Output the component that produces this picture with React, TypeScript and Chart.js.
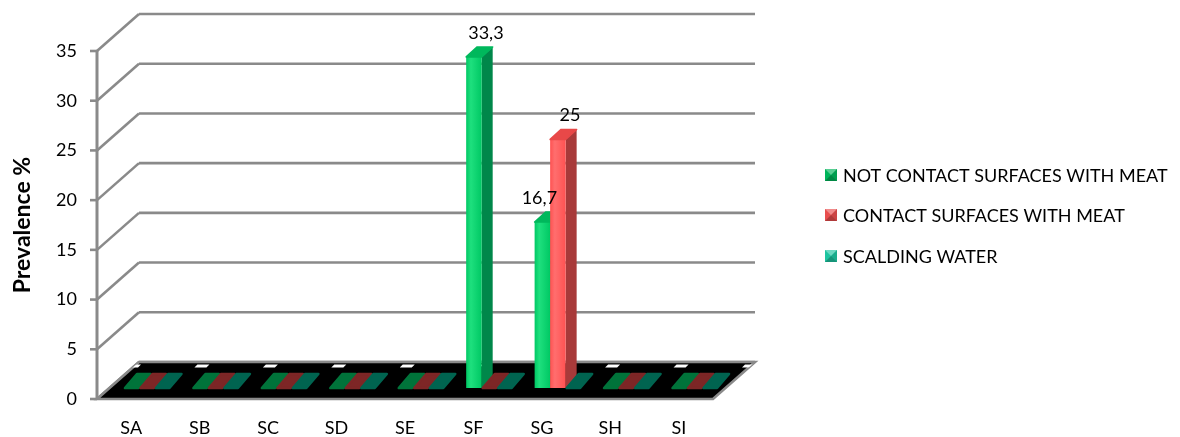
import React, { useEffect, useRef } from "react";
import { Chart, registerables } from "chart.js";

Chart.register(...registerables);

// Sampling sites
const categories = ["SA", "SB", "SC", "SD", "SE", "SF", "SG", "SH", "SI"];

// Prevalence (%) per sample type
const notContactSurfaces = [0, 0, 0, 0, 0, 33.3, 16.7, 0, 0];
const contactSurfaces = [0, 0, 0, 0, 0, 0, 25, 0, 0];
const scaldingWater = [0, 0, 0, 0, 0, 0, 0, 0, 0];

const seriesNames = [
  "NOT CONTACT SURFACES WITH MEAT",
  "CONTACT SURFACES WITH MEAT",
  "SCALDING WATER",
];

const yTicks = { min: 0, max: 35, step: 5 };

// Palette per series: front / light / side / top / flat (zero) / legend
const palettes = [
  { front: "#00c864", light: "#1ee07e", side: "#00874a", top: "#00b85c", flat: "#00733a", legend: "#00b45a" },
  { front: "#ff5252", light: "#ff6e6e", side: "#a83a3a", top: "#e84848", flat: "#7d2626", legend: "#e84e4e" },
  { front: "#1cc8a4", light: "#3ae0bc", side: "#0f8a70", top: "#19b090", flat: "#006450", legend: "#1ec4a0" },
];

const FONT = "Lato, 'Open Sans', sans-serif";
const GRID = "#8a8a8a";

// 3D projection offsets
const WALL_DX = 42;
const WALL_DY = -37;
const BAR_DX = 16;
const BAR_DY = -11;
const DEPTH_DX = 11;
const DEPTH_DY = -10;

function poly(ctx: CanvasRenderingContext2D, pts: number[][]) {
  ctx.beginPath();
  ctx.moveTo(pts[0][0], pts[0][1]);
  for (let i = 1; i < pts.length; i++) ctx.lineTo(pts[i][0], pts[i][1]);
  ctx.closePath();
}

function drawValueLabels(chart: any) {
  const { ctx } = chart;
  const datasets = chart.data.datasets;
  ctx.save();
  ctx.font = `18px ${FONT}`;
  ctx.fillStyle = "#000";
  ctx.textAlign = "center";
  ctx.textBaseline = "middle";
  for (let d = 0; d < datasets.length; d++) {
    const meta = chart.getDatasetMeta(d);
    meta.data.forEach((el: any, i: number) => {
      const v = datasets[d].data[i] as number;
      if (!v) return;
      const p = el.getProps(["x", "y", "width"], true);
      const next = datasets[d + 1] ? (datasets[d + 1].data[i] as number) : 0;
      const shift = next > v ? -3 : 12;
      const cx = p.x + BAR_DX + shift;
      const cy = p.y + BAR_DY - 24;
      ctx.fillText(String(v).replace(".", ","), cx, cy);
    });
  }
  ctx.restore();
}

const threeD = {
  id: "threeD",
  beforeDatasetsDraw(chart: any) {
    const { ctx, chartArea: a, scales } = chart;
    const y = scales.y;
    const y0 = y.getPixelForValue(0);
    ctx.save();
    ctx.lineCap = "butt";

    // back wall gridlines, depth connectors and tick marks
    ctx.strokeStyle = GRID;
    ctx.lineWidth = 2.6;
    for (const t of y.ticks) {
      const yf = y.getPixelForValue(t.value);
      const yb = yf + WALL_DY;
      ctx.beginPath();
      ctx.moveTo(a.left + WALL_DX, yb);
      ctx.lineTo(a.right + WALL_DX, yb);
      ctx.stroke();
      ctx.beginPath();
      ctx.moveTo(a.left, yf);
      ctx.lineTo(a.left + WALL_DX, yb);
      ctx.stroke();
      ctx.beginPath();
      ctx.moveTo(a.left - 7, yf);
      ctx.lineTo(a.left, yf);
      ctx.stroke();
    }
    // front value axis
    ctx.lineWidth = 3;
    ctx.beginPath();
    ctx.moveTo(a.left, y.getPixelForValue(yTicks.max));
    ctx.lineTo(a.left, y0 + 1);
    ctx.stroke();

    // floor
    const floor = [
      [a.left, y0],
      [a.right, y0],
      [a.right + WALL_DX, y0 + WALL_DY],
      [a.left + WALL_DX, y0 + WALL_DY],
    ];
    poly(ctx, floor);
    ctx.fillStyle = "#000";
    ctx.fill();
    ctx.lineWidth = 2.6;
    ctx.strokeStyle = GRID;
    ctx.stroke();

    // category dividers on the floor
    ctx.save();
    poly(ctx, floor);
    ctx.clip();
    ctx.fillStyle = "#fff";
    const n = categories.length;
    const cw = (a.right - a.left) / n;
    const yb = y0 + WALL_DY;
    for (let i = 0; i <= n; i++) {
      const bx = a.left + WALL_DX + i * cw;
      poly(ctx, [
        [bx - 10, yb + 2.5],
        [bx + 2, yb + 2.5],
        [bx - 1, yb + 5.5],
        [bx - 13, yb + 5.5],
      ]);
      ctx.fill();
    }
    ctx.restore();

    // bars
    const datasets = chart.data.datasets;
    for (let i = 0; i < n; i++) {
      for (let d = 0; d < datasets.length; d++) {
        const meta = chart.getDatasetMeta(d);
        const el = meta.data[i];
        if (!el) continue;
        const p = el.getProps(["x", "y", "base", "width"], true);
        const v = datasets[d].data[i] as number;
        const pal = palettes[d];
        const w = p.width;
        const x0 = p.x - w / 2 + BAR_DX;
        const x1 = x0 + w;
        const base = p.base + BAR_DY;
        const top = p.y + BAR_DY;
        ctx.lineJoin = "round";
        if (!v) {
          // flat cap of a zero-height bar
          poly(ctx, [
            [x0 + 1, base],
            [x1 - 1, base],
            [x1 + 11, base - 14],
            [x0 + 13, base - 14],
          ]);
          ctx.fillStyle = pal.flat;
          ctx.strokeStyle = pal.flat;
          ctx.lineWidth = 2.5;
          ctx.fill();
          ctx.stroke();
          continue;
        }
        // side face
        poly(ctx, [
          [x1, top],
          [x1 + DEPTH_DX, top + DEPTH_DY],
          [x1 + DEPTH_DX, base + DEPTH_DY],
          [x1, base],
        ]);
        ctx.fillStyle = pal.side;
        ctx.fill();
        // front face
        const g = ctx.createLinearGradient(x0, 0, x1, 0);
        g.addColorStop(0, pal.front);
        g.addColorStop(0.3, pal.light);
        g.addColorStop(1, pal.front);
        ctx.fillStyle = g;
        ctx.fillRect(x0, top, w, base - top);
        // top face
        poly(ctx, [
          [x0, top],
          [x1, top],
          [x1 + DEPTH_DX, top + DEPTH_DY],
          [x0 + DEPTH_DX, top + DEPTH_DY],
        ]);
        ctx.fillStyle = pal.top;
        ctx.strokeStyle = pal.top;
        ctx.lineWidth = 1.5;
        ctx.fill();
        ctx.stroke();
      }
    }
    ctx.restore();
    return false;
  },
  afterDraw(chart: any) {
    drawValueLabels(chart);
    const { ctx } = chart;
    ctx.save();
    ctx.font = `18px ${FONT}`;
    ctx.textBaseline = "middle";
    ctx.textAlign = "left";
    const rows = [175, 215, 256];
    chart.data.datasets.forEach((ds: any, d: number) => {
      const cy = rows[d];
      const s = 12;
      const lx = 825;
      const ly = cy - s / 2;
      const pal = palettes[d];
      ctx.fillStyle = pal.legend;
      ctx.fillRect(lx, ly, s, s);
      // bevelled marker
      ctx.fillStyle = "rgba(255,255,255,0.35)";
      poly(ctx, [[lx, ly], [lx + s, ly], [lx + s / 2, ly + s / 2]]);
      ctx.fill();
      ctx.fillStyle = "rgba(0,0,0,0.25)";
      poly(ctx, [[lx, ly + s], [lx + s, ly + s], [lx + s / 2, ly + s / 2]]);
      ctx.fill();
      ctx.fillStyle = "rgba(0,0,0,0.12)";
      poly(ctx, [[lx + s, ly], [lx + s, ly + s], [lx + s / 2, ly + s / 2]]);
      ctx.fill();
      ctx.fillStyle = "#000";
      ctx.fillText(ds.label, 843, cy + 1);
    });
    ctx.restore();
  },
};

export default function App() {
  const ref = useRef<HTMLCanvasElement>(null);
  useEffect(() => {
    if (!ref.current) return;
    const tickFont = { family: FONT, size: 18 };
    const chart = new Chart(ref.current, {
      type: "bar",
      data: {
        labels: categories,
        datasets: [
          { label: seriesNames[0], data: notContactSurfaces, backgroundColor: palettes[0].front },
          { label: seriesNames[1], data: contactSurfaces, backgroundColor: palettes[1].front },
          { label: seriesNames[2], data: scaldingWater, backgroundColor: palettes[2].front },
        ],
      },
      options: {
        animation: false,
        responsive: true,
        maintainAspectRatio: false,
        layout: { padding: { top: 51, right: 467, bottom: 0, left: 0 } },
        datasets: { bar: { categoryPercentage: 0.68, barPercentage: 1 } },
        plugins: { legend: { display: false }, tooltip: { enabled: false } },
        scales: {
          x: {
            grid: { display: false, drawTicks: false },
            border: { display: false },
            ticks: { padding: 18, font: tickFont, color: "#000" },
            afterFit: (s: any) => {
              s.height = 38;
            },
          },
          y: {
            min: yTicks.min,
            max: yTicks.max,
            grid: { display: false, drawTicks: false },
            border: { display: false },
            ticks: { stepSize: yTicks.step, padding: 20, font: tickFont, color: "#000" },
            title: {
              display: true,
              text: "Prevalence %",
              font: { family: FONT, size: 23, weight: "bold" },
              color: "#000",
              padding: { top: 9, bottom: 0 },
            },
            afterFit: (s: any) => {
              s.width = 97;
            },
          },
        },
      },
      plugins: [threeD],
    });
    return () => chart.destroy();
  }, []);
  return (
    <div style={{ position: "absolute", left: 0, top: 0, width: 1180, height: 437 }}>
      <canvas ref={ref} />
    </div>
  );
}
